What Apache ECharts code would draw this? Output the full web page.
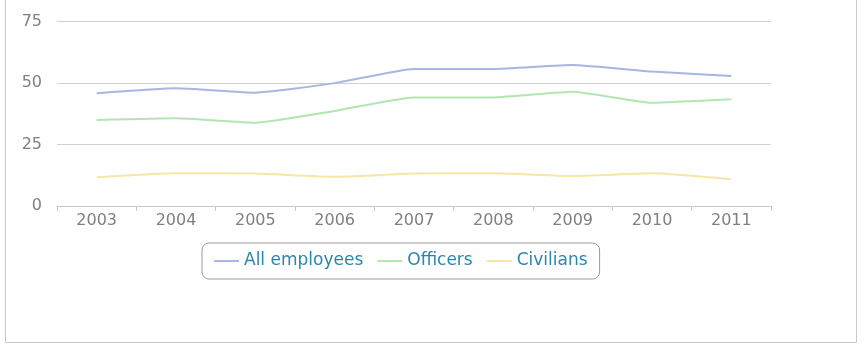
<!DOCTYPE html>
<html><head><meta charset="utf-8">
<script src="https://cdn.jsdelivr.net/npm/echarts@6/dist/echarts.min.js"></script>
<style>html,body{margin:0;padding:0;background:#fff}#c{width:865px;height:346px}</style>
</head><body><div id="c"></div>
<script>
const years = ['2003','2004','2005','2006','2007','2008','2009','2010','2011'];
const allEmployees = [45.9, 47.9, 46.1, 50.0, 55.8, 55.8, 57.4, 54.7, 52.9];
const officers = [35.0, 35.7, 33.9, 38.7, 44.2, 44.2, 46.5, 42.0, 43.4];
const civilians = [11.7, 13.3, 13.2, 11.9, 13.2, 13.3, 12.2, 13.3, 10.9];
const yTicks = [0, 25, 50, 75];

const chart = echarts.init(document.getElementById('c'));
const font = 'DejaVu Sans';
function line(name, data, color){
  return {name, type:'line', data, smooth:0.15, symbol:'none',
    lineStyle:{color, width:2}, itemStyle:{color}};
}
chart.setOption({
  animation:false,
  textStyle:{fontFamily:font},
  graphic:[{type:'rect', shape:{x:5.5,y:-10,width:851,height:352.5},
    style:{fill:'none', stroke:'#c8c8c8', lineWidth:1}, silent:true}],
  grid:{left:57, right:94, top:21.7, bottom:140, containLabel:false},
  xAxis:{type:'category', data:years, boundaryGap:true,
    axisLine:{show:true, lineStyle:{color:'#c8c8c8'}},
    axisTick:{show:true, length:5, lineStyle:{color:'#c8c8c8'}},
    axisLabel:{color:'#808080', fontSize:16, margin:7, fontFamily:font}},
  yAxis:{type:'value', min:yTicks[0], max:yTicks[yTicks.length-1], interval:25,
    axisLine:{show:false}, axisTick:{show:false},
    axisLabel:{color:'#808080', fontSize:16, margin:15, fontFamily:font},
    splitLine:{lineStyle:{color:'#d0d0d0', width:1}}},
  legend:{left:202, top:243, padding:[9.5,12], itemWidth:25, itemHeight:2, itemGap:14,
    borderColor:'#999', borderWidth:1, borderRadius:7,
    icon:'rect',
    textStyle:{color:'#2b86ad', fontSize:17, fontFamily:font},
    data:['All employees','Officers','Civilians']},
  series:[
    line('All employees', allEmployees, '#a7b6e2'),
    line('Officers', officers, '#b2e6b0'),
    line('Civilians', civilians, '#f7e7a6')
  ]
});
</script></body></html>
